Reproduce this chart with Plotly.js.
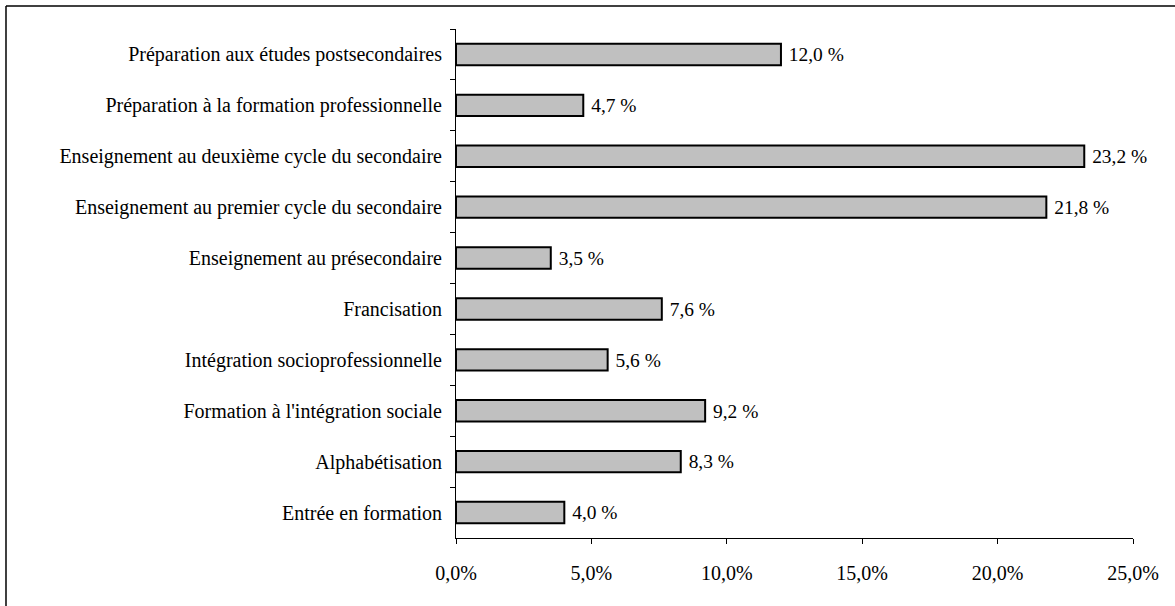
<!DOCTYPE html>
<html>
<head>
<meta charset="utf-8">
<script src="https://cdn.plot.ly/plotly-3.0.1.min.js"></script>
<style>
html,body{margin:0;padding:0;background:#fff;}
#chart{width:1175px;height:606px;}
</style>
</head>
<body>
<div id="chart"></div>
<script>
const categories = [
  "Préparation aux études postsecondaires",
  "Préparation à la formation professionnelle",
  "Enseignement au deuxième cycle du secondaire",
  "Enseignement au premier cycle du secondaire",
  "Enseignement au présecondaire",
  "Francisation",
  "Intégration socioprofessionnelle",
  "Formation à l'intégration sociale",
  "Alphabétisation",
  "Entrée en formation"
];
const values = [12.0, 4.7, 23.2, 21.8, 3.5, 7.6, 5.6, 9.2, 8.3, 4.0];
const valueLabels = ["12,0 %", "4,7 %", "23,2 %", "21,8 %", "3,5 %", "7,6 %", "5,6 %", "9,2 %", "8,3 %", "4,0 %"];
const xTickVals = [0, 5, 10, 15, 20, 25];
const xTickText = ["0,0%", "5,0%", "10,0%", "15,0%", "20,0%", "25,0%"];

const fontFam = "Liberation Serif";

const trace = {
  type: 'bar',
  orientation: 'h',
  x: values,
  y: categories,
  text: valueLabels,
  texttemplate: '\u00a0%{text}',
  textposition: 'outside',
  cliponaxis: false,
  textfont: {family: fontFam, size: 20, color: '#000'},
  marker: {color: '#c0c0c0', line: {color: '#000', width: 2}},
  width: 0.42,
  hoverinfo: 'x+y'
};

const layout = {
  width: 1175,
  height: 606,
  margin: {l: 456, r: 42, t: 29, b: 68},
  paper_bgcolor: '#fff',
  plot_bgcolor: '#fff',
  font: {family: fontFam, size: 20, color: '#000'},
  showlegend: false,
  xaxis: {
    range: [0, 25],
    tickvals: xTickVals,
    ticktext: xTickText,
    ticks: 'outside',
    ticklen: 5,
    tickcolor: '#000',
    tickfont: {family: fontFam, size: 20, color: '#000'},
    showline: true,
    linecolor: '#000',
    linewidth: 1,
    showgrid: false,
    zeroline: false,
    ticklabelstandoff: 12,
    fixedrange: true
  },
  yaxis: {
    type: 'category',
    autorange: 'reversed',
    ticks: 'outside',
    tickson: 'boundaries',
    ticklen: 5,
    tickcolor: '#000',
    tickfont: {family: fontFam, size: 20, color: '#000'},
    showline: true,
    linecolor: '#000',
    linewidth: 1,
    showgrid: false,
    zeroline: false,
    ticklabelstandoff: 9,
    fixedrange: true
  },
  shapes: [
    {type: 'line', xref: 'paper', yref: 'paper', x0: -0.6647, x1: -0.6647, y0: 1.0452, y1: -0.2, line: {color: '#000', width: 1.5}},
    {type: 'line', xref: 'paper', yref: 'paper', x0: -0.6647, x1: 1.2, y0: 1.0452, y1: 1.0452, line: {color: '#000', width: 1.5}}
  ]
};

Plotly.newPlot('chart', [trace], layout, {displayModeBar: false, staticPlot: true});
</script>
</body>
</html>
